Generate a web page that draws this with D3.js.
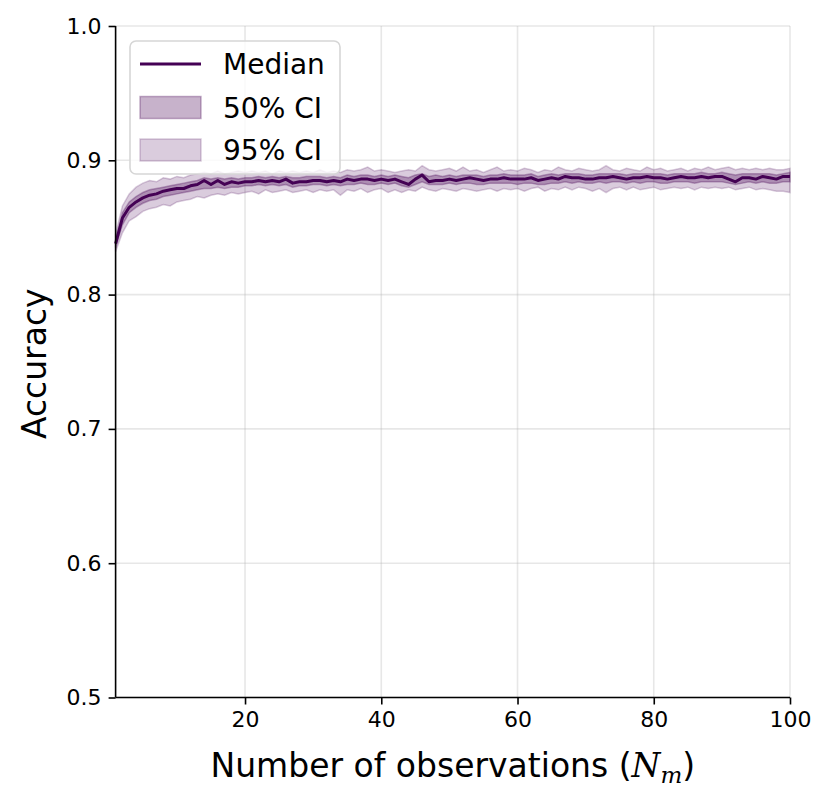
<!DOCTYPE html>
<html><head><meta charset="utf-8">
<script src="https://cdn.jsdelivr.net/npm/d3@7"></script>
<style>body{margin:0;background:#fff}svg{display:block}text{font-family:"DejaVu Sans",sans-serif}</style>
</head><body>
<svg id="chart" width="831" height="799"></svg>
<script>
const median = [0.838,0.857,0.865,0.869,0.872,0.874,0.875,0.877,0.878,0.879,
0.879,0.881,0.882,0.885,0.882,0.885,0.882,0.884,0.883,0.884,
0.884,0.885,0.884,0.885,0.884,0.886,0.883,0.884,0.884,0.885,
0.885,0.884,0.885,0.884,0.886,0.885,0.886,0.886,0.885,0.886,
0.885,0.886,0.884,0.882,0.886,0.889,0.884,0.885,0.885,0.886,
0.885,0.886,0.887,0.886,0.885,0.886,0.886,0.887,0.886,0.886,
0.886,0.887,0.885,0.886,0.887,0.886,0.888,0.887,0.887,0.886,
0.886,0.887,0.887,0.888,0.887,0.886,0.887,0.887,0.888,0.887,
0.887,0.886,0.887,0.888,0.887,0.887,0.888,0.887,0.888,0.888,
0.886,0.884,0.887,0.887,0.886,0.888,0.887,0.886,0.888,0.888];
const lo95 = [0.832,0.846,0.855,0.858,0.862,0.864,0.865,0.867,0.866,0.869,
0.870,0.871,0.873,0.872,0.874,0.875,0.874,0.876,0.875,0.876,
0.877,0.875,0.878,0.876,0.877,0.878,0.876,0.877,0.878,0.876,
0.878,0.877,0.878,0.874,0.878,0.877,0.879,0.876,0.878,0.879,
0.876,0.878,0.876,0.878,0.877,0.880,0.878,0.877,0.879,0.878,
0.877,0.879,0.878,0.877,0.878,0.879,0.877,0.879,0.878,0.879,
0.877,0.879,0.880,0.877,0.879,0.878,0.880,0.878,0.880,0.879,
0.877,0.879,0.876,0.879,0.880,0.878,0.880,0.878,0.879,0.880,
0.878,0.879,0.880,0.879,0.880,0.878,0.880,0.879,0.880,0.879,
0.880,0.878,0.879,0.880,0.878,0.879,0.878,0.877,0.877,0.876];
const lo50 = [0.835,0.852,0.861,0.865,0.868,0.870,0.871,0.873,0.874,0.875,
0.876,0.877,0.878,0.879,0.879,0.880,0.879,0.880,0.880,0.881,
0.881,0.882,0.881,0.882,0.881,0.882,0.880,0.881,0.881,0.882,
0.882,0.881,0.882,0.881,0.882,0.882,0.883,0.882,0.882,0.883,
0.882,0.883,0.881,0.880,0.882,0.884,0.882,0.882,0.882,0.883,
0.882,0.883,0.883,0.882,0.882,0.883,0.883,0.883,0.883,0.882,
0.883,0.883,0.882,0.882,0.883,0.883,0.884,0.883,0.884,0.883,
0.883,0.884,0.883,0.884,0.884,0.883,0.884,0.883,0.884,0.884,
0.883,0.883,0.884,0.884,0.884,0.883,0.884,0.884,0.884,0.884,
0.883,0.882,0.883,0.884,0.883,0.884,0.883,0.883,0.884,0.884];
const hi50 = [0.841,0.861,0.869,0.873,0.876,0.878,0.879,0.880,0.881,0.882,
0.883,0.884,0.885,0.887,0.886,0.887,0.886,0.887,0.886,0.887,
0.887,0.888,0.887,0.888,0.887,0.888,0.887,0.887,0.888,0.888,
0.888,0.887,0.888,0.887,0.889,0.888,0.889,0.889,0.888,0.889,
0.888,0.889,0.888,0.887,0.889,0.890,0.888,0.889,0.888,0.889,
0.888,0.889,0.889,0.889,0.888,0.889,0.889,0.890,0.889,0.889,
0.889,0.890,0.888,0.889,0.890,0.889,0.890,0.890,0.890,0.889,
0.889,0.890,0.890,0.890,0.890,0.889,0.890,0.890,0.890,0.890,
0.890,0.889,0.890,0.890,0.890,0.890,0.891,0.890,0.890,0.891,
0.890,0.889,0.890,0.890,0.890,0.890,0.890,0.889,0.890,0.891];
const hi95 = [0.845,0.866,0.875,0.880,0.883,0.885,0.884,0.887,0.886,0.888,
0.887,0.889,0.890,0.891,0.890,0.892,0.890,0.891,0.892,0.891,
0.892,0.891,0.892,0.890,0.892,0.891,0.892,0.891,0.892,0.891,
0.893,0.891,0.892,0.891,0.893,0.892,0.893,0.895,0.892,0.893,
0.892,0.891,0.892,0.893,0.892,0.896,0.893,0.892,0.893,0.894,
0.892,0.895,0.892,0.893,0.891,0.893,0.895,0.892,0.893,0.892,
0.894,0.893,0.891,0.893,0.892,0.895,0.893,0.892,0.894,0.893,
0.892,0.893,0.896,0.893,0.892,0.894,0.893,0.892,0.895,0.893,
0.894,0.892,0.893,0.894,0.892,0.894,0.893,0.895,0.893,0.894,
0.895,0.893,0.894,0.893,0.894,0.893,0.894,0.893,0.893,0.894];
const xTicks = [20, 40, 60, 80, 100];
const yTicks = [0.5, 0.6, 0.7, 0.8, 0.9, 1.0];
const legendLabels = ["Median", "50% CI", "95% CI"];

const purple = "#440154";
const W = 831, H = 799;
const m = {left: 115.6, right: 41, top: 26, bottom: 101.5};
const svg = d3.select("#chart");
const x = d3.scaleLinear().domain([1, 100]).range([m.left, W - m.right]);
const y = d3.scaleLinear().domain([0.5, 1.0]).range([H - m.bottom, m.top]);
const data = median.map((v, i) => ({n: i + 1, med: v, l95: lo95[i], h95: hi95[i], l50: lo50[i], h50: hi50[i]}));

// grid
const grid = svg.append("g");
grid.selectAll(".gx").data(xTicks).join("line")
  .attr("x1", d => x(d)).attr("x2", d => x(d)).attr("y1", y(0.5)).attr("y2", y(1.0))
  .attr("stroke", "#b0b0b0").attr("stroke-opacity", 0.3).attr("stroke-width", 1.6);
grid.selectAll(".gy").data(yTicks).join("line")
  .attr("x1", x(1)).attr("x2", x(100)).attr("y1", d => y(d)).attr("y2", d => y(d))
  .attr("stroke", "#b0b0b0").attr("stroke-opacity", 0.3).attr("stroke-width", 1.6);

// bands
const area95 = d3.area().x(d => x(d.n)).y0(d => y(d.l95)).y1(d => y(d.h95));
const area50 = d3.area().x(d => x(d.n)).y0(d => y(d.l50)).y1(d => y(d.h50));
svg.append("path").datum(data).attr("d", area95)
  .attr("fill", purple).attr("fill-opacity", 0.2)
  .attr("stroke", purple).attr("stroke-opacity", 0.2).attr("stroke-width", 1.5);
svg.append("path").datum(data).attr("d", area50)
  .attr("fill", purple).attr("fill-opacity", 0.3)
  .attr("stroke", purple).attr("stroke-opacity", 0.3).attr("stroke-width", 1.5);
svg.append("path").datum(data)
  .attr("d", d3.line().x(d => x(d.n)).y(d => y(d.med)))
  .attr("fill", "none").attr("stroke", purple).attr("stroke-width", 3).attr("stroke-linejoin", "round");

// axes
const xAxis = svg.append("g").attr("transform", `translate(0,${H - m.bottom})`)
  .call(d3.axisBottom(x).tickValues(xTicks).tickFormat(d3.format("d")).tickSize(7).tickPadding(7));
const yAxis = svg.append("g").attr("transform", `translate(${m.left},0)`)
  .call(d3.axisLeft(y).tickValues(yTicks).tickFormat(d3.format(".1f")).tickSize(7).tickPadding(7));
[xAxis, yAxis].forEach(a => {
  a.select(".domain").attr("stroke", "#000").attr("stroke-width", 1.6);
  a.selectAll(".tick line").attr("stroke", "#000").attr("stroke-width", 1.6);
  a.selectAll(".tick text").attr("font-size", 22).attr("fill", "#000").attr("font-family", "DejaVu Sans");
});
xAxis.select(".domain").attr("d", `M${x(1)},0H${x(100)}`);
yAxis.select(".domain").attr("d", `M0,${y(0.5)}V${y(1.0)}`);

// axis labels
const xl = svg.append("text").attr("x", (x(1) + x(100)) / 2).attr("y", 777)
  .attr("text-anchor", "middle").attr("font-size", 33).attr("fill", "#000");
xl.append("tspan").text("Number of observations (");
xl.append("tspan").attr("font-family", "DejaVu Serif").attr("font-style", "italic").text("N");
xl.append("tspan").attr("font-family", "DejaVu Serif").attr("font-style", "italic").attr("font-size", 23).attr("dy", 6).text("m");
xl.append("tspan").attr("dy", -6).text(")");
svg.append("text").attr("transform", `translate(46,${(y(0.5) + y(1.0)) / 2 + 2}) rotate(-90)`)
  .attr("text-anchor", "middle").attr("font-size", 33).attr("fill", "#000").text("Accuracy");

// legend
const lg = svg.append("g");
lg.append("rect").attr("x", 130).attr("y", 41).attr("width", 210).attr("height", 133).attr("rx", 6)
  .attr("fill", "#fff").attr("fill-opacity", 0.8).attr("stroke", "#d6d6d6").attr("stroke-width", 1.6);
const rowY = [64, 107.5, 150];
lg.append("line").attr("x1", 140).attr("x2", 201).attr("y1", rowY[0]).attr("y2", rowY[0])
  .attr("stroke", purple).attr("stroke-width", 3);
lg.append("rect").attr("x", 140).attr("y", rowY[1] - 11).attr("width", 61).attr("height", 22)
  .attr("fill", purple).attr("fill-opacity", 0.3).attr("stroke", purple).attr("stroke-opacity", 0.3).attr("stroke-width", 1.5);
lg.append("rect").attr("x", 140).attr("y", rowY[2] - 11).attr("width", 61).attr("height", 22)
  .attr("fill", purple).attr("fill-opacity", 0.2).attr("stroke", purple).attr("stroke-opacity", 0.2).attr("stroke-width", 1.5);
lg.selectAll(".lt").data(legendLabels).join("text")
  .attr("x", 223).attr("y", (d, i) => rowY[i] + 10).attr("font-size", 28).attr("fill", "#000").text(d => d);
</script>
</body></html>
